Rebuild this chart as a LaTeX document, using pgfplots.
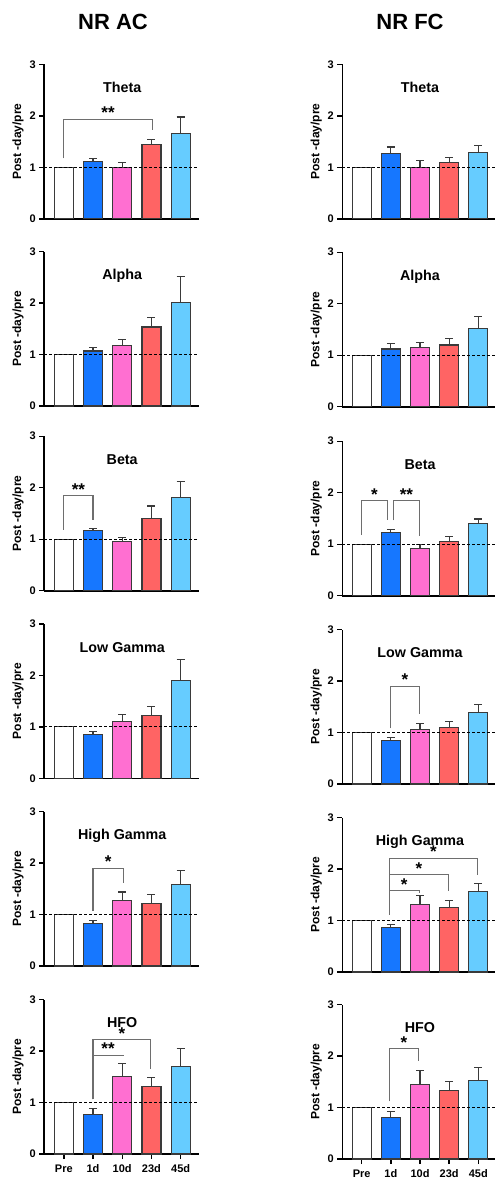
\documentclass[border=0pt]{standalone}
\usepackage{fontspec}
\setmainfont{Liberation Sans}
\usepackage{pgfplots}
\pgfplotsset{compat=1.18}
\definecolor{c1d}{HTML}{1677FF}
\definecolor{c10d}{HTML}{FF6FD1}
\definecolor{c23d}{HTML}{FF6464}
\definecolor{c45d}{HTML}{66CCFF}
\definecolor{edge}{HTML}{3A3A3A}
\definecolor{brk}{HTML}{6E6E6E}

\pgfplotsset{
 panel/.style={
   scale only axis, height=154.5bp, ymin=0, ymax=3,
   axis x line*=bottom, axis y line*=left,
   axis line style={line width=1.6bp, -, black},
   ytick={0,1,2,3}, yticklabels={0,1,2,3},
   tick align=outside, major tick length=5bp,
   tick style={line width=1.4bp, black},
   yticklabel style={font=\fontsize{11bp}{13bp}\selectfont\bfseries},
   xtick=\empty,
   ylabel={Post -day/pre},
   ylabel style={font=\fontsize{12bp}{14bp}\selectfont\bfseries, at={(axis description cs:-0.17,0.5)}, anchor=center},
   clip=false,
   anchor=south west,
 },
 bottompanel/.style={xtick={0,1,2,3,4}, xticklabels={Pre,1d,10d,23d,45d},
   xticklabel style={font=\fontsize{11bp}{13bp}\selectfont\bfseries, yshift=-2bp}},
 leftcol/.style={xmin=-0.668, xmax=4.64, width=155bp},
 rightcol/.style={xmin=-0.666, xmax=4.57, width=152.6bp},
 barsty/.style={ybar, bar width=0.65, draw=edge, line width=1.2bp},
 errsty/.style={error bars/.cd, y dir=plus, y explicit,
   error bar style={line width=1.2bp, edge},
   error mark options={rotate=90, mark size=4bp, line width=1.2bp, edge}},
}

% pre, v1,e1, v2,e2, v3,e3, v4,e4
\newcommand\bars[9]{%
 \addplot[barsty, fill=white] coordinates {(0,#1)};
 \addplot[barsty, fill=c1d, errsty] coordinates {(1,#2) +- (0,#3)};
 \addplot[barsty, fill=c10d, errsty] coordinates {(2,#4) +- (0,#5)};
 \addplot[barsty, fill=c23d, errsty] coordinates {(3,#6) +- (0,#7)};
 \addplot[barsty, fill=c45d, errsty] coordinates {(4,#8) +- (0,#9)};
 \draw[black, line width=0.9bp, dash pattern=on 3bp off 2bp] (rel axis cs:0,0.33333) -- (rel axis cs:1,0.33333);
}
\newcommand\ptitle[1]{\node[anchor=base, font=\fontsize{14.3bp}{16bp}\selectfont\bfseries] at (axis cs:2,2.45) {#1};}
% x1 x2 top leftbottom rightbottom stars
\newcommand\brk[6]{%
 \draw[brk, line width=1.1bp] (axis cs:#1,#4) -- (axis cs:#1,#3) -- (axis cs:#2,#3) -- (axis cs:#2,#5);
 \node[anchor=base, inner sep=0pt, font=\fontsize{17bp}{18bp}\selectfont\bfseries] at (axis cs:{(#1+#2)/2},{#3+0.01}) {#6};
}

\begin{document}
\begin{tikzpicture}
\path[use as bounding box] (0,0) rectangle (495bp,-1182bp);
\node[font=\fontsize{22bp}{24bp}\selectfont\bfseries] at (113bp,-22bp) {NR AC};
\node[font=\fontsize{22bp}{24bp}\selectfont\bfseries] at (410bp,-22bp) {NR FC};

% ---------- left column ----------
\begin{axis}[panel, leftcol, at={(44.3bp,-218.8bp)}]
 \bars{1}{1.12}{0.055}{1.0}{0.09}{1.45}{0.095}{1.655}{0.32}
 \ptitle{Theta}
 \brk{0}{3.03}{1.93}{1.175}{1.725}{**}
\end{axis}
\begin{axis}[panel, leftcol, at={(44.3bp,-406bp)}]
 \bars{1}{1.07}{0.06}{1.175}{0.11}{1.535}{0.187}{2.01}{0.50}
 \ptitle{Alpha}
\end{axis}
\begin{axis}[panel, leftcol, at={(44.3bp,-590.7bp)}]
 \bars{1}{1.168}{0.046}{0.948}{0.09}{1.405}{0.24}{1.812}{0.31}
 \ptitle{Beta}
 \brk{0}{1.0}{1.848}{1.18}{1.375}{**}
\end{axis}
\begin{axis}[panel, leftcol, at={(44.3bp,-778.3bp)}]
 \bars{1}{0.851}{0.052}{1.11}{0.136}{1.227}{0.162}{1.90}{0.40}
 \ptitle{Low Gamma}
\end{axis}
\begin{axis}[panel, leftcol, at={(44.3bp,-966bp)}]
 \bars{1}{0.825}{0.065}{1.266}{0.17}{1.22}{0.163}{1.59}{0.267}
 \ptitle{High Gamma}
 \brk{1.0}{2.04}{1.896}{1.065}{1.61}{*}
\end{axis}
\begin{axis}[panel, leftcol, bottompanel, at={(44.3bp,-1154bp)}]
 \bars{1}{0.767}{0.11}{1.511}{0.253}{1.304}{0.175}{1.696}{0.355}
 \ptitle{HFO}
 \brk{1.0}{2.03}{1.92}{1.06}{1.90}{**}
 \brk{1.0}{2.98}{2.22}{1.06}{1.66}{*}
\end{axis}

% ---------- right column ----------
\begin{axis}[panel, rightcol, at={(342.3bp,-218.8bp)}]
 \bars{1}{1.272}{0.123}{1.0}{0.13}{1.097}{0.10}{1.29}{0.13}
 \ptitle{Theta}
\end{axis}
\begin{axis}[panel, rightcol, at={(342.3bp,-406.7bp)}]
 \bars{1}{1.12}{0.11}{1.15}{0.10}{1.20}{0.13}{1.52}{0.235}
 \ptitle{Alpha}
\end{axis}
\begin{axis}[panel, rightcol, at={(342.3bp,-595.7bp)}]
 \bars{1}{1.22}{0.064}{0.922}{0.065}{1.052}{0.097}{1.40}{0.09}
 \ptitle{Beta}
 \brk{0}{0.88}{1.847}{1.175}{1.465}{*}
 \brk{1.08}{1.99}{1.847}{1.465}{1.16}{**}
\end{axis}
\begin{axis}[panel, rightcol, at={(342.3bp,-784bp)}]
 \bars{1}{0.845}{0.052}{1.058}{0.11}{1.103}{0.117}{1.388}{0.149}
 \ptitle{Low Gamma}
 \brk{0.98}{1.99}{1.90}{1.078}{1.35}{*}
\end{axis}
\begin{axis}[panel, rightcol, at={(342.3bp,-972bp)}]
 \bars{1}{0.864}{0.065}{1.304}{0.188}{1.252}{0.143}{1.557}{0.155}
 \ptitle{High Gamma}
 \brk{0.95}{1.97}{1.576}{1.11}{1.53}{*}
 \brk{0.95}{2.97}{1.893}{1.11}{1.565}{*}
 \brk{0.95}{3.97}{2.21}{1.11}{1.89}{*}
\end{axis}
\begin{axis}[panel, rightcol, bottompanel, at={(342.3bp,-1159bp)}]
 \bars{1}{0.812}{0.117}{1.454}{0.272}{1.324}{0.188}{1.531}{0.247}
 \ptitle{HFO}
 \brk{0.94}{1.955}{2.14}{1.117}{1.894}{*}
\end{axis}
\end{tikzpicture}
\end{document}
